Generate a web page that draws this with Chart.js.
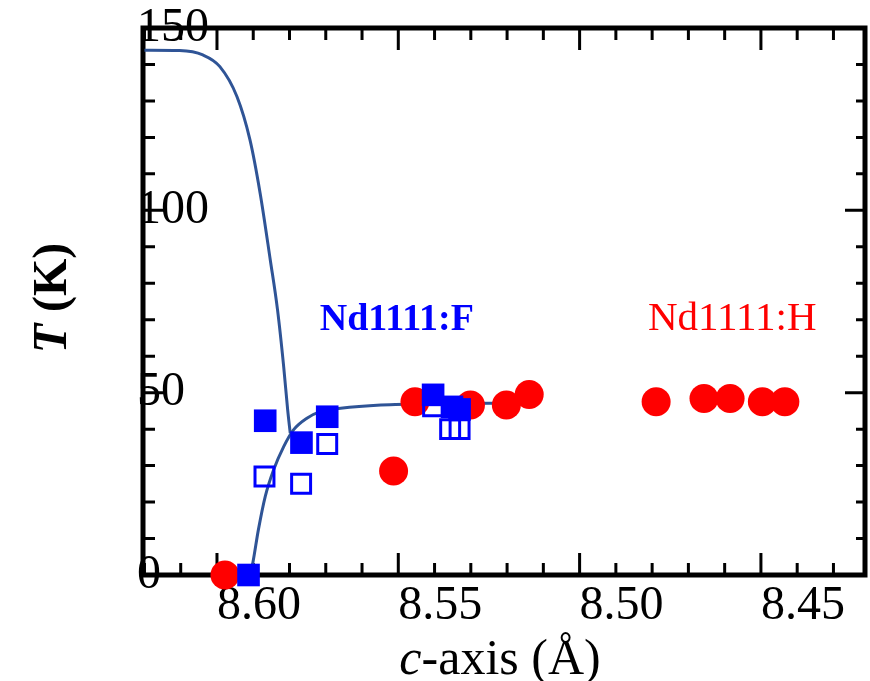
<!DOCTYPE html>
<html>
<head>
<meta charset="utf-8">
<title>Nd1111 phase diagram</title>
<script src="https://cdn.jsdelivr.net/npm/chart.js@4/dist/chart.umd.min.js"></script>
<style>
    html, body { margin: 0; padding: 0; background: #fff; }
    #chart { display: block; }
</style>
</head>
<body>
<canvas id="chart" width="870" height="681"></canvas>
<script>
// Nd1111:H (hydrogen doped) - c-axis (Å) and Tc (K)
const hAxis = [8.5978, 8.5513, 8.5454, 8.5301, 8.5202, 8.5139, 8.4789, 8.4657, 8.4585, 8.4496, 8.4434];
const hTemp = [0, 28.5, 47.5, 46.6, 46.6, 49.5, 47.5, 48.4, 48.4, 47.5, 47.5];

// Nd1111:F (fluorine doped), filled = Tc onset, open = Tc zero
const fAxis = [8.5913, 8.5867, 8.5767, 8.5696, 8.5404, 8.5352, 8.5331];
const fTemp = [0, 42.3, 36.3, 43.4, 49.4, 46.1, 45.4];
const fOpenAxis = [8.5869, 8.5768, 8.5696, 8.5404, 8.5357, 8.5331];
const fOpenTemp = [27.0, 25.0, 35.9, 46.3, 40.0, 40.0];

// guide lines: SDW transition and superconducting dome
const sdwAxis = [8.6200, 8.6103, 8.6039, 8.5992, 8.5945, 8.5909, 8.5881, 8.5853, 8.5833, 8.5816, 8.5805, 8.5798];
const sdwTemp = [143.9, 143.8, 142.6, 139.4, 131.2, 119.3, 104.7, 86.4, 72.7, 57.1, 45.2, 38.9];
const scAxis = [8.5909, 8.5901, 8.5886, 8.5867, 8.5844, 8.5816, 8.5789, 8.5752, 8.5715, 8.5659, 8.5548, 8.5382, 8.5244, 8.5202];
const scTemp = [0, 3.4, 12.3, 21.5, 28.8, 35.2, 39.8, 43.0, 44.8, 45.7, 46.6, 47.0, 47.1, 46.9];

const xTicks = [8.60, 8.55, 8.50, 8.45];
const yTicks = [0, 50, 100, 150];

const serif = "'Liberation Serif', 'Times New Roman', serif";

const toPoints = (xs, ys) => xs.map((v, i) => ({ x: v, y: ys[i] }));

// box around the plot with inward tick marks on all four sides
const frame = {
    id: 'frame',
    beforeDatasetsDraw(chart) {
        const { ctx, chartArea: a, scales: { x, y } } = chart;
        ctx.save();
        ctx.strokeStyle = '#000';
        ctx.lineWidth = 3;
        ctx.beginPath();
        for (let k = 843; k <= 862; k++) {
            const px = x.getPixelForValue(k / 100);
            const len = k % 5 === 0 ? 22 : 12;
            ctx.moveTo(px, a.bottom);
            ctx.lineTo(px, a.bottom - len);
            ctx.moveTo(px, a.top);
            ctx.lineTo(px, a.top + len);
        }
        for (let k = 0; k <= 150; k += 10) {
            const py = y.getPixelForValue(k);
            const len = k % 50 === 0 ? 22 : 12;
            ctx.moveTo(a.left, py);
            ctx.lineTo(a.left + len, py);
            ctx.moveTo(a.right, py);
            ctx.lineTo(a.right - (k % 50 === 0 ? 20 : 9), py);
        }
        ctx.stroke();
        ctx.lineWidth = 5;
        ctx.strokeRect(a.left, a.top, a.right - a.left, a.bottom - a.top);
        ctx.restore();
    }
};

// axis titles (mixed italic) and series names
const texts = {
    id: 'texts',
    afterDraw(chart) {
        const { ctx, scales: { x, y } } = chart;
        ctx.save();
        ctx.fillStyle = '#000';
        ctx.textBaseline = 'alphabetic';

        // c-axis (Å)
        const it = 'italic 50px ' + serif;
        const rg = '50px ' + serif;
        ctx.font = it;
        const w1 = ctx.measureText('c').width;
        ctx.font = rg;
        const w2 = ctx.measureText('-axis (Å)').width;
        let sx = 500 - (w1 + w2) / 2;
        ctx.textAlign = 'left';
        ctx.font = it;
        ctx.fillText('c', sx, 674);
        ctx.font = rg;
        ctx.fillText('-axis (Å)', sx + w1, 674);

        // T (K)
        ctx.translate(66, 298);
        ctx.rotate(-Math.PI / 2);
        const bi = 'italic bold 48px ' + serif;
        const bd = 'bold 48px ' + serif;
        ctx.font = bi;
        const t1 = ctx.measureText('T').width;
        ctx.font = bd;
        const t2 = ctx.measureText(' (K)').width;
        sx = -(t1 + t2) / 2;
        ctx.font = bi;
        ctx.fillText('T', sx, 0);
        ctx.font = bd;
        ctx.fillText(' (K)', sx + t1, 0);
        ctx.setTransform(1, 0, 0, 1, 0, 0);

        ctx.textAlign = 'center';
        ctx.textBaseline = 'middle';
        ctx.font = 'bold 38px ' + serif;
        ctx.fillStyle = '#0000ff';
        ctx.fillText('Nd1111:F', x.getPixelForValue(8.5504), y.getPixelForValue(70));
        ctx.font = '41px ' + serif;
        ctx.fillStyle = '#ff0000';
        ctx.fillText('Nd1111:H', x.getPixelForValue(8.4579), y.getPixelForValue(70));
        ctx.restore();
    }
};

const ctx = document.getElementById('chart').getContext('2d');

new Chart(ctx, {
    type: 'scatter',
    data: {
        datasets: [
            {
                label: 'Nd1111:F onset',
                data: toPoints(fAxis, fTemp),
                pointStyle: 'rect',
                pointRadius: 16,
                backgroundColor: '#0000ff',
                borderWidth: 0,
                clip: false,
                order: 0
            },
            {
                label: 'Nd1111:F zero',
                data: toPoints(fOpenAxis, fOpenTemp),
                pointStyle: 'rect',
                pointRadius: 13.4,
                backgroundColor: 'rgba(255,255,255,0)',
                borderColor: '#0000ff',
                borderWidth: 3,
                clip: false,
                order: 1
            },
            {
                label: 'Nd1111:H',
                data: toPoints(hAxis, hTemp),
                pointStyle: 'circle',
                pointRadius: 14.5,
                backgroundColor: '#ff0000',
                borderWidth: 0,
                clip: false,
                order: 2
            },
            {
                label: 'SDW',
                data: toPoints(sdwAxis, sdwTemp),
                showLine: true,
                pointRadius: 0,
                borderColor: '#2f5496',
                borderWidth: 3,
                cubicInterpolationMode: 'monotone',
                clip: false,
                order: 3
            },
            {
                label: 'SC',
                data: toPoints(scAxis, scTemp),
                showLine: true,
                pointRadius: 0,
                borderColor: '#2f5496',
                borderWidth: 3,
                cubicInterpolationMode: 'monotone',
                clip: false,
                order: 3
            }
        ]
    },
    options: {
        responsive: false,
        animation: false,
        layout: { autoPadding: false, padding: { top: 28, right: 5, left: 0, bottom: 0 } },
        plugins: {
            legend: { display: false },
            tooltip: { enabled: false }
        },
        scales: {
            x: {
                type: 'linear',
                reverse: true,
                min: 8.4213,
                max: 8.6204,
                border: { display: false },
                grid: { display: false, drawTicks: false },
                afterBuildTicks: s => { s.ticks = xTicks.map(v => ({ value: v })); },
                afterFit: s => { s.height = 106; s.paddingLeft = 0; s.paddingRight = 0; },
                ticks: {
                    align: 'start',
                    maxRotation: 0,
                    autoSkip: false,
                    padding: 3,
                    color: '#000',
                    font: { family: serif, size: 48 },
                    callback: v => v.toFixed(2)
                }
            },
            y: {
                type: 'linear',
                min: 0,
                max: 150,
                border: { display: false },
                grid: { display: false, drawTicks: false },
                afterBuildTicks: s => { s.ticks = yTicks.map(v => ({ value: v })); },
                afterFit: s => { s.width = 143; s.paddingTop = 0; s.paddingBottom = 0; },
                ticks: {
                    mirror: true,
                    padding: -6,
                    color: '#000',
                    font: { family: serif, size: 48 },
                    callback: v => String(v)
                }
            }
        }
    },
    plugins: [frame, texts]
});
</script>
</body>
</html>
